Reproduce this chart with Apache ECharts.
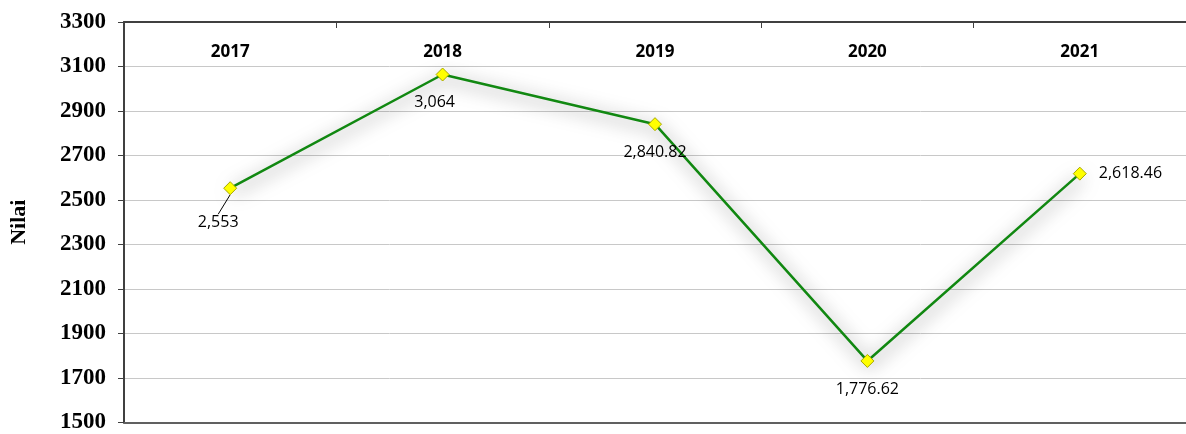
<!DOCTYPE html>
<html>
<head>
<meta charset="utf-8">
<script src="https://cdn.jsdelivr.net/npm/echarts@6/dist/echarts.min.js"></script>
<title>Nilai 2017-2021</title>
<style>html,body{margin:0;padding:0;background:#fff;}</style>
</head>
<body>
<div id="main" style="width:1186px;height:434px;"></div>
<script type="text/javascript">
var years = ['2017', '2018', '2019', '2020', '2021'];
var values = [2553, 3064, 2840.82, 1776.62, 2618.46];
var valueLabels = ['2,553', '3,064', '2,840.82', '1,776.62', '2,618.46'];

var serif = '"Liberation Serif", "DejaVu Serif", serif';
var sans = '"Open Sans", "Liberation Sans", sans-serif';

var seriesData = values.map(function (v, i) {
	var item = { value: v, label: { position: 'bottom', distance: 13 }, labelLine: { show: false } };
	if (i === 0) item.labelLine = { show: true };
	if (i === 4) item.label = { position: 'right', distance: 12 };
	return item;
});

var chart = echarts.init(document.getElementById('main'));
chart.setOption({
	backgroundColor: '#fff',
	animation: false,
	grid: { left: 120, right: 0, top: 22, bottom: 9 },
	xAxis: [{
		type: 'category',
		data: years,
		position: 'top',
		boundaryGap: true,
		axisLine: { lineStyle: { color: '#404040', width: 2 } },
		axisTick: { show: true, inside: true, length: 6, lineStyle: { color: '#404040' } },
		axisLabel: { inside: true, margin: 22, color: '#000', fontFamily: sans, fontWeight: 'bold', fontSize: 17 }
	}, {
		type: 'category',
		data: years,
		position: 'bottom',
		axisLine: { lineStyle: { color: '#606060', width: 2 } },
		axisTick: { show: false },
		axisLabel: { show: false }
	}],
	yAxis: {
		type: 'value',
		min: 1500,
		max: 3300,
		interval: 200,
		name: 'Nilai',
		nameLocation: 'middle',
		nameGap: 94,
		nameRotate: 90,
		nameTextStyle: { color: '#000', fontFamily: serif, fontWeight: 'bold', fontSize: 22 },
		axisLine: { show: true, lineStyle: { color: '#404040', width: 2 } },
		axisTick: { show: true, length: 6, lineStyle: { color: '#404040' } },
		axisLabel: {
			margin: 18, color: '#000', fontFamily: serif, fontWeight: 'bold', fontSize: 23,
			formatter: function (v) { return String(v); }
		},
		splitLine: { lineStyle: { color: '#c8c8c8', width: 1 } }
	},
	series: [{
		type: 'line',
		data: seriesData,
		symbol: 'diamond',
		symbolSize: 13,
		itemStyle: { color: '#ffff00', borderColor: '#a8a800', borderWidth: 1 },
		lineStyle: {
			color: '#118811', width: 2.5,
			shadowColor: 'rgba(0,0,0,0.65)', shadowBlur: 18, shadowOffsetX: 2, shadowOffsetY: 4
		},
		label: {
			show: true,
			color: '#000',
			fontFamily: sans,
			fontSize: 16,
			formatter: function (p) { return valueLabels[p.dataIndex]; }
		},
		labelLayout: function (p) {
			if (p.dataIndex === 0) return { dx: -12, dy: 6 };
			if (p.dataIndex === 1) return { dx: -8, dy: 0 };
			return {};
		},
		labelLine: { show: false, length2: 0, lineStyle: { color: '#000', width: 1 } }
	}]
});
</script>
</body>
</html>
